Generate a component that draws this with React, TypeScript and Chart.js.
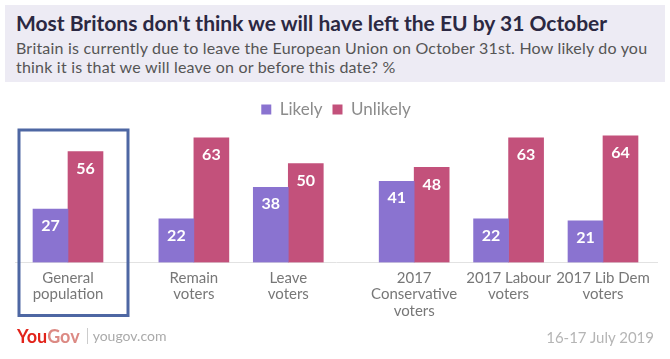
import React, { useEffect, useRef } from "react";
import { Chart, registerables } from "chart.js";

Chart.register(...registerables);

// ---- data ----
const categories: string[][] = [
  ["General", "population"],
  ["Remain", "voters"],
  ["Leave", "voters"],
  ["2017", "Conservative", "voters"],
  ["2017 Labour", "voters"],
  ["2017 Lib Dem", "voters"],
];
const seriesNames = ["Likely", "Unlikely"];
const likely = [27, 22, 38, 41, 22, 21];
const unlikely = [56, 63, 50, 48, 63, 64];

const titleText = "Most Britons don't think we will have left the EU by 31 October";
const subtitleLines = [
  "Britain is currently due to leave the European Union on October 31st. How likely do you",
  "think it is that we will leave on or before this date? %",
];
const dateText = "16-17 July 2019";

// ---- layout / style ----
const SLOTS = [0, 4, 7, 11, 14, 17]; // horizontal spacing of category groups
const PURPLE = "#8A73D0";
const PINK = "#C3517B";
const FONT = "Lato, 'Open Sans', sans-serif";

const valueLabels = {
  id: "valueLabels",
  afterDatasetsDraw(chart: any) {
    const ctx = chart.ctx;
    chart.data.datasets.forEach((ds: any, di: number) => {
      const meta = chart.getDatasetMeta(di);
      meta.data.forEach((bar: any, i: number) => {
        const v = ds.data[i].y;
        ctx.save();
        ctx.fillStyle = "#ffffff";
        ctx.font = `bold 16px ${FONT}`;
        ctx.textAlign = "center";
        ctx.textBaseline = "middle";
        ctx.fillText(String(v), bar.x, bar.y + 17);
        ctx.restore();
      });
    });
  },
};

const highlightBox = {
  id: "highlightBox",
  afterDraw(chart: any) {
    const ctx = chart.ctx;
    const cx = chart.scales.x.getPixelForValue(SLOTS[0]);
    const area = chart.chartArea;
    ctx.save();
    ctx.strokeStyle = "#4E67A3";
    ctx.lineWidth = 3;
    ctx.strokeRect(cx - 49, area.top + 2, 109, area.bottom - area.top + 51);
    ctx.restore();
  },
};

export default function App() {
  const ref = useRef<HTMLCanvasElement | null>(null);

  useEffect(() => {
    if (!ref.current) return;
    const chart = new Chart(ref.current, {
      type: "bar",
      data: {
        datasets: [
          {
            label: seriesNames[0],
            data: likely.map((v, i) => ({ x: SLOTS[i], y: v })),
            backgroundColor: PURPLE,
            barThickness: 35,
          },
          {
            label: seriesNames[1],
            data: unlikely.map((v, i) => ({ x: SLOTS[i], y: v })),
            backgroundColor: PINK,
            barThickness: 35,
          },
        ],
      },
      options: {
        animation: false,
        responsive: false,
        devicePixelRatio: 1,
        layout: { padding: { top: 9, left: 15, right: 13, bottom: 4 } },
        plugins: {
          legend: {
            position: "top",
            labels: {
              boxWidth: 10,
              boxHeight: 10,
              color: "#8c8c8c",
              padding: 10,
              font: { family: FONT, size: 17 },
            },
          },
          tooltip: { enabled: false },
        },
        scales: {
          x: {
            type: "linear",
            offset: false,
            min: -1.684,
            max: 18.716,
            grid: { display: false, drawTicks: false, offset: false },
            border: { display: true, color: "#e2e2e2", width: 1 },
            afterBuildTicks: (s: any) => {
              s.ticks = SLOTS.map((v) => ({ value: v }));
            },
            afterFit: (s: any) => {
              s.paddingLeft = 0;
              s.paddingRight = 0;
            },
            ticks: {
              autoSkip: false,
              maxRotation: 0,
              minRotation: 0,
              padding: 7,
              color: "#777777",
              font: { family: FONT, size: 15, lineHeight: 1.1 },
              callback: (v: any) => {
                const i = SLOTS.indexOf(Number(v));
                return i >= 0 ? categories[i] : "";
              },
            },
          },
          y: { display: false, min: 0, max: 67.9 },
        },
      } as any,
      plugins: [valueLabels, highlightBox],
    });
    return () => chart.destroy();
  }, []);

  return (
    <div
      style={{
        position: "fixed",
        left: 0,
        top: 0,
        width: 670,
        height: 359,
        background: "#ffffff",
        overflow: "hidden",
        fontFamily: FONT,
      }}
    >
      <div
        style={{
          position: "absolute",
          left: 5,
          top: 5,
          width: 660,
          height: 77,
          background: "#EDEBF4",
        }}
      />
      <div
        style={{
          position: "absolute",
          left: 16,
          top: 11,
          fontSize: 21,
          lineHeight: "24px",
          fontWeight: 700,
          color: "#2B2842",
          whiteSpace: "nowrap",
        }}
      >
        {titleText}
      </div>
      <div
        style={{
          position: "absolute",
          left: 16,
          top: 38,
          fontSize: 16,
          lineHeight: "19px",
          letterSpacing: "0.2px",
          color: "#555555",
          whiteSpace: "nowrap",
        }}
      >
        {subtitleLines.map((l, i) => (
          <div key={i}>{l}</div>
        ))}
      </div>
      <canvas
        ref={ref}
        width={670}
        height={248}
        style={{ position: "absolute", left: 0, top: 82, width: 670, height: 248 }}
      />
      <div
        style={{
          position: "absolute",
          left: 17,
          top: 326,
          fontSize: 18,
          lineHeight: "20px",
          whiteSpace: "nowrap",
          display: "flex",
          alignItems: "center",
        }}
      >
        <span style={{ color: "#E2231A", fontWeight: 700 }}>You</span>
        <span style={{ color: "#DC8A84", fontWeight: 700 }}>Gov</span>
        <span
          style={{
            display: "inline-block",
            width: 0,
            height: 16,
            borderLeft: "1px solid #cccccc",
            margin: "0 5px 0 7px",
          }}
        />
        <span style={{ color: "#aaaaaa", fontSize: 14 }}>yougov.com</span>
      </div>
      <div
        style={{
          position: "absolute",
          right: 16,
          top: 328,
          fontSize: 15,
          lineHeight: "18px",
          color: "#b5b5b5",
          whiteSpace: "nowrap",
        }}
      >
        {dateText}
      </div>
    </div>
  );
}
